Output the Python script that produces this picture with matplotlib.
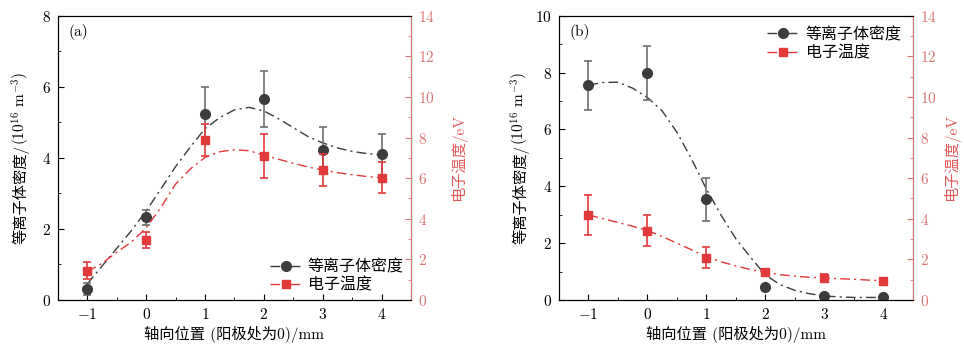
import numpy as np
import matplotlib.pyplot as plt
from matplotlib.lines import Line2D
from matplotlib.ticker import MultipleLocator

plt.rcParams['font.family'] = ['cmr10', 'Noto Sans CJK SC', 'DejaVu Sans']
plt.rcParams['mathtext.fontset'] = 'cm'
plt.rcParams['axes.formatter.use_mathtext'] = True
plt.rcParams['axes.unicode_minus'] = True

# measured points
x_pos = [-1, 0, 1, 2, 3, 4]

dens_a = [0.30, 2.33, 5.22, 5.65, 4.22, 4.10]
dens_a_err = [0.17, 0.21, 0.77, 0.78, 0.65, 0.58]
temp_a = [1.44, 2.94, 7.88, 7.11, 6.40, 6.03]
temp_a_err = [0.42, 0.40, 0.80, 1.08, 0.80, 0.78]

dens_b = [7.55, 7.97, 3.54, 0.45, 0.14, 0.12]
dens_b_err = [0.85, 0.95, 0.76, 0.0, 0.0, 0.0]
temp_b = [4.19, 3.42, 2.09, 1.40, 1.10, 0.94]
temp_b_err = [0.98, 0.78, 0.52, 0.15, 0.18, 0.05]

# fitted curves
x_fit = [-1, -0.75, -0.5, -0.25, 0, 0.25, 0.5, 0.75, 1, 1.25, 1.5,
         1.75, 2, 2.25, 2.5, 2.75, 3, 3.25, 3.5, 3.75, 4]
dens_a_fit = [0.45, 0.95, 1.45, 1.95, 2.5, 3.12, 3.75, 4.3, 4.82, 5.13, 5.35,
              5.42, 5.32, 5.1, 4.85, 4.6, 4.42, 4.28, 4.18, 4.12, 4.08]
temp_a_fit = [1.4, 1.8, 2.35, 2.85, 3.55, 4.55, 5.7, 6.45, 7.02, 7.3, 7.4,
              7.35, 7.14, 6.93, 6.73, 6.55, 6.40, 6.27, 6.17, 6.08, 6.02]
dens_b_fit = [7.56, 7.65, 7.66, 7.45, 7.12, 6.65, 5.9, 4.95, 3.9, 2.98, 2.15,
              1.5, 0.88, 0.54, 0.34, 0.22, 0.14, 0.11, 0.09, 0.09, 0.09]
temp_b_fit = [4.19, 4.0, 3.82, 3.63, 3.42, 3.13, 2.8, 2.47, 2.13, 1.88, 1.68,
              1.5, 1.35, 1.25, 1.17, 1.12, 1.08, 1.05, 1.02, 0.98, 0.95]

xticks = [-1, 0, 1, 2, 3, 4]

dark = '#3c3c3c'
bar_dark = '#6e6e6e'
red = '#e2393b'
red_axis = '#d97676'
red_label = '#e05a5a'
dashdot = (0, (7, 3, 1.5, 3))

fig = plt.figure(figsize=(9.64, 3.51), dpi=100)
ax_a = fig.add_axes([0.0599, 0.1453, 0.3665, 0.81])
ax_b = fig.add_axes([0.5799, 0.1453, 0.3669, 0.81])

ylabel_parts = []


def panel(ax, dens, dens_err, temp, temp_err, dfit, tfit, ymax, tag,
          legend_loc, legend_pad, label_x, right_pad):
    ax.plot(x_fit, dfit, color=dark, lw=1.0, ls=dashdot, zorder=2)
    ax.errorbar(x_pos, dens, yerr=dens_err, fmt='none', ecolor=bar_dark,
                elinewidth=1.2, capsize=3, capthick=1.2, zorder=3)
    ax.plot(x_pos, dens, 'o', color=dark, ms=7, zorder=4)
    ax.set_xlim(-1.5, 4.5)
    ax.set_ylim(0, ymax)
    ax.set_xticks(xticks)
    ax.xaxis.set_minor_locator(MultipleLocator(0.5))
    ax.yaxis.set_major_locator(MultipleLocator(2))
    ax.yaxis.set_minor_locator(MultipleLocator(1))
    ax.tick_params(which='both', direction='in', top=False, right=False,
                   labelsize=11, pad=5)
    ax.tick_params(which='major', length=4)
    ax.tick_params(which='minor', length=2.5)
    ax.set_xlabel('轴向位置 (阳极处为0)/mm', fontsize=11, labelpad=3)
    ax.text(0.03, 0.97, tag, transform=ax.transAxes, fontsize=11,
            va='top', ha='left')

    # y label in two pieces so the CJK part gets its fallback font
    t1 = ax.text(label_x, 0.5, '等离子体密度/', transform=ax.transAxes,
                 rotation=90, rotation_mode='anchor', ha='right',
                 va='baseline', fontsize=11)
    t2 = ax.text(label_x, 0.5, '(10$^{16}$ m$^{-3}$)', transform=ax.transAxes,
                 rotation=90, rotation_mode='anchor', ha='left',
                 va='baseline', fontsize=11)
    ylabel_parts.append((ax, t1, t2))

    tw = ax.twinx()
    tw.plot(x_fit, tfit, color=red, lw=1.0, ls=dashdot, zorder=2)
    tw.errorbar(x_pos, temp, yerr=temp_err, fmt='none', ecolor=red,
                elinewidth=1.2, capsize=3, capthick=1.2, zorder=3)
    tw.plot(x_pos, temp, 's', color=red, ms=6, zorder=4)
    tw.set_ylim(0, 14)
    tw.yaxis.set_major_locator(MultipleLocator(2))
    tw.yaxis.set_minor_locator(MultipleLocator(1))
    tw.tick_params(which='both', direction='in', colors=red_axis,
                   labelsize=11, pad=5)
    tw.tick_params(which='major', length=4)
    tw.tick_params(which='minor', length=2.5)
    tw.spines['right'].set_color(red_axis)
    tw.set_ylabel('电子温度/eV', color=red_label, fontsize=11,
                  labelpad=right_pad)

    handles = [
        Line2D([], [], color=dark, ls=dashdot, lw=1.0, marker='o', ms=7),
        Line2D([], [], color=red, ls=dashdot, lw=1.0, marker='s', ms=6),
    ]
    tw.legend(handles, ['等离子体密度', '电子温度'], loc=legend_loc,
              frameon=False, fontsize=11.5, handlelength=2.0,
              handletextpad=0.4, labelspacing=0.2, borderaxespad=legend_pad)
    return tw


panel(ax_a, dens_a, dens_a_err, temp_a, temp_a_err, dens_a_fit, temp_a_fit,
      8, '(a)', 'lower right', 0.05, -0.092, 11)
panel(ax_b, dens_b, dens_b_err, temp_b, temp_b_err, dens_b_fit, temp_b_fit,
      10, '(b)', 'upper right', 0.3, -0.096, 5)

# centre the two-piece y labels on the axes
fig.canvas.draw()
r = fig.canvas.get_renderer()
for ax, t1, t2 in ylabel_parts:
    h1 = t1.get_window_extent(r).height
    h2 = t2.get_window_extent(r).height
    ax_h = ax.get_window_extent(r).height
    y0 = 0.5 + (h1 - h2) / 2 / ax_h
    t1.set_y(y0)
    t2.set_y(y0)

fig.savefig('out.png', dpi=100)
